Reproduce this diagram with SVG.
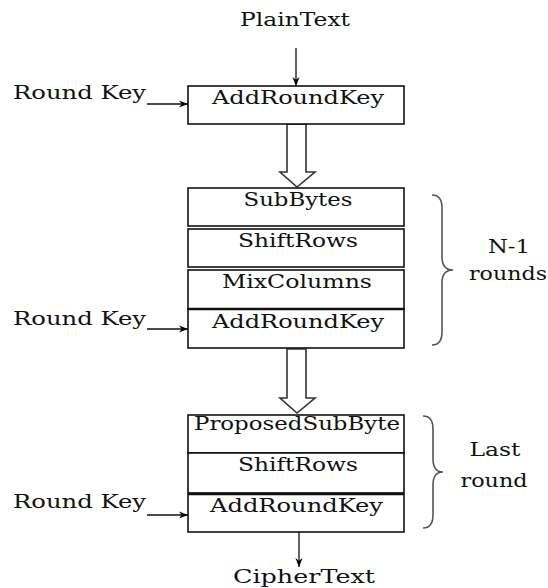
<svg xmlns="http://www.w3.org/2000/svg" width="548" height="588" viewBox="0 0 548 588">
<defs>
<marker id="ah" viewBox="0 0 10 10" refX="10" refY="5" markerWidth="9" markerHeight="9" markerUnits="userSpaceOnUse" orient="auto">
<path d="M0,1 L10,5 L0,9 L3,5 Z" fill="#000"/>
</marker>
</defs>
<style>
text{font-family:"DejaVu Serif","Liberation Serif",serif;font-size:18px;fill:#111}
.box{fill:#fff;stroke:#111;stroke-width:1.6}
.thick{stroke:#111;stroke-width:2.6}
.arr{stroke:#111;stroke-width:1.3;fill:none;marker-end:url(#ah)}
.hollow{fill:#fff;stroke:#333;stroke-width:1.6;stroke-linejoin:miter}
.brace{fill:none;stroke:#555;stroke-width:1.6}
</style>
<rect width="548" height="588" fill="#fff"/>

<g id="connectors">
<line class="arr" x1="296" y1="48" x2="296" y2="86"/>
<line class="arr" x1="147" y1="104" x2="188" y2="104"/>
<line class="arr" x1="147" y1="329" x2="188" y2="329"/>
<line class="arr" x1="147" y1="515" x2="188" y2="515"/>
<line class="arr" x1="299" y1="532" x2="299" y2="567"/>
<polygon class="hollow" points="287,124 306,124 306,172 315,172 297,187 280,172 287,172"/>
<polygon class="hollow" points="287,349 306,349 306,398 315,398 297,413 280,398 287,398"/>
</g>

<g id="plaintext"><text x="295" y="26" text-anchor="middle" textLength="110" lengthAdjust="spacingAndGlyphs">PlainText</text></g>
<g id="roundkey1"><text x="13" y="99" textLength="133" lengthAdjust="spacingAndGlyphs">Round Key</text></g>
<g id="addroundkey1">
<rect class="box" x="188" y="86" width="216" height="38"/>
<text x="212" y="104" textLength="172" lengthAdjust="spacingAndGlyphs">AddRoundKey</text>
</g>

<g id="subbytes">
<rect class="box" x="188" y="188" width="216" height="38"/>
<text x="298" y="206" text-anchor="middle" textLength="109" lengthAdjust="spacingAndGlyphs">SubBytes</text>
</g>
<g id="shiftrows1">
<rect class="box" x="188" y="229" width="216" height="38"/>
<text x="298" y="247" text-anchor="middle" textLength="120" lengthAdjust="spacingAndGlyphs">ShiftRows</text>
</g>
<g id="mixcolumns">
<rect class="box" x="188" y="270" width="216" height="39"/>
<text x="297" y="288" text-anchor="middle" textLength="150" lengthAdjust="spacingAndGlyphs">MixColumns</text>
</g>
<g id="addroundkey2">
<rect class="box" x="188" y="309" width="216" height="39"/>
<line class="thick" x1="188" y1="309" x2="404" y2="309"/>
<text x="212" y="328" textLength="172" lengthAdjust="spacingAndGlyphs">AddRoundKey</text>
</g>
<g id="roundkey2"><text x="13" y="325" textLength="133" lengthAdjust="spacingAndGlyphs">Round Key</text></g>
<g id="brace1">
<path class="brace" d="M432,195 Q442,195 442,208 L442,257 Q442,270 453,270 Q442,270 442,283 L442,332 Q442,345 432,345"/>
<text x="509" y="253" text-anchor="middle" textLength="42" lengthAdjust="spacingAndGlyphs">N-1</text>
<text x="508" y="280" text-anchor="middle" textLength="78" lengthAdjust="spacingAndGlyphs">rounds</text>
</g>

<g id="proposedsubbytes">
<rect class="box" x="188" y="415" width="216" height="38"/>
<text x="194" y="430" textLength="206" lengthAdjust="spacingAndGlyphs">ProposedSubByte</text>
</g>
<g id="shiftrows2">
<rect class="box" x="188" y="453" width="216" height="40"/>
<text x="298" y="471" text-anchor="middle" textLength="120" lengthAdjust="spacingAndGlyphs">ShiftRows</text>
</g>
<g id="addroundkey3">
<rect class="box" x="188" y="494" width="216" height="38"/>
<line class="thick" x1="188" y1="494" x2="404" y2="494"/>
<text x="210" y="512" textLength="173" lengthAdjust="spacingAndGlyphs">AddRoundKey</text>
</g>
<g id="roundkey3"><text x="13" y="508" textLength="133" lengthAdjust="spacingAndGlyphs">Round Key</text></g>
<g id="brace2">
<path class="brace" d="M423,416 Q433,416 433,429 L433,459 Q433,472 443,472 Q433,472 433,485 L433,515 Q433,528 423,528"/>
<text x="495" y="456" text-anchor="middle" textLength="51" lengthAdjust="spacingAndGlyphs">Last</text>
<text x="494" y="487" text-anchor="middle" textLength="67" lengthAdjust="spacingAndGlyphs">round</text>
</g>
<g id="ciphertext"><text x="304" y="583" text-anchor="middle" textLength="142" lengthAdjust="spacingAndGlyphs">CipherText</text></g>
</svg>
